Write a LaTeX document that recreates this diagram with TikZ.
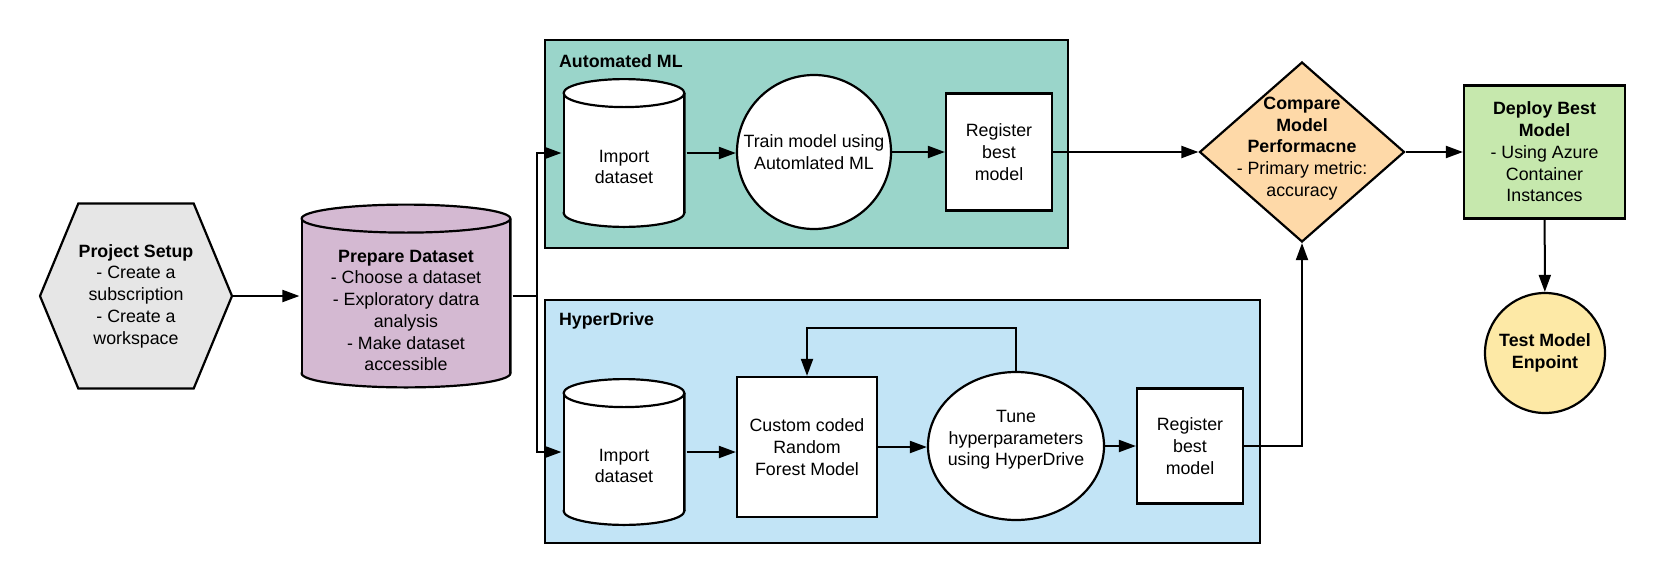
\documentclass[tikz,border=0pt]{standalone}
\usepackage{fontspec}
\setmainfont{Liberation Sans}
\usetikzlibrary{shapes.geometric,shapes.symbols,arrows.meta,calc}
\definecolor{setupgray}{HTML}{E6E6E6}
\definecolor{prepmauve}{HTML}{D4B9D2}
\definecolor{automlteal}{HTML}{9AD5CA}
\definecolor{hyperblue}{HTML}{C2E4F6}
\definecolor{comparepeach}{HTML}{FED9A8}
\definecolor{deploygreen}{HTML}{C6E8AD}
\definecolor{testyellow}{HTML}{FDE9A6}
\begin{document}
\begin{tikzpicture}[x=1pt, y=-1pt,
    every node/.style={font=\fontsize{17.8}{21.7}\selectfont, align=center, inner sep=0pt, line width=2.2pt},
    group/.style={draw, rectangle},
    proc/.style={draw, rectangle, fill=white},
    % cylinder drawn inside a plain rectangle node
    db/.style={rectangle, path picture={
      \path let \p1=(path picture bounding box.north west), \p2=(path picture bounding box.south east) in
        \pgfextra{\xdef\dbL{\x1}\xdef\dbR{\x2}\xdef\dbT{\y1}\xdef\dbB{\y2}};
      \begin{scope}[line width=2.2pt]
        \filldraw[fill=#1] ({(\dbL+\dbR)/2},{\dbB+15.1pt}) ellipse [x radius={(\dbR-\dbL)/2-1.1pt}, y radius=14pt];
        \fill[#1] ({\dbL+1.1pt},{\dbB+15.1pt}) rectangle ({\dbR-1.1pt},{\dbT-15.1pt});
        \draw ({\dbL+1.1pt},{\dbB+15.1pt}) -- ({\dbL+1.1pt},{\dbT-15.1pt})
              ({\dbR-1.1pt},{\dbB+15.1pt}) -- ({\dbR-1.1pt},{\dbT-15.1pt});
        \filldraw[fill=#1] ({(\dbL+\dbR)/2},{\dbT-15.1pt}) ellipse [x radius={(\dbR-\dbL)/2-1.1pt}, y radius=14pt];
      \end{scope}}},
    db/.default=white,
    >={Triangle[length=17pt, width=12pt]}]
  \useasboundingbox (0,0) rectangle (1665,584);
  \draw
    (806.5,144) node[group, fill=automlteal, minimum width=523, minimum height=208] (automl){}
    (902.5,421.5) node[group, fill=hyperblue, minimum width=715, minimum height=243] (hyper){}
    (558,61) node[anchor=west] (automltitle){\textbf{Automated ML}}
    (558,321) node[anchor=west] (hypertitle){\textbf{HyperDrive}}
    (136,296) node[draw, signal, signal to=west and east, signal pointer angle=135,
      fill=setupgray, minimum width=192, minimum height=185] (setup){\textbf{Project Setup}\\- Create a\\subscription\\- Create a\\workspace}
    (406,296) node[db=prepmauve, minimum width=211, minimum height=185,
      label={[yshift=-14.5pt]center:{\textbf{Prepare Dataset}\\- Choose a dataset\\- Exploratory datra\\analysis\\- Make dataset\\accessible}}] (prep){}
    (624,153) node[db, minimum width=123, minimum height=150,
      label={[yshift=-14pt]center:{Import\\dataset}}] (imp1){}
    (814,152) node[draw, circle, fill=white, minimum size=154] (train){Train model using\\Automlated ML}
    (999,152) node[proc, minimum width=106, minimum height=117] (reg1){Register\\best\\model}
    (624,452) node[db, minimum width=123, minimum height=148,
      label={[yshift=-14pt]center:{Import\\dataset}}] (imp2){}
    (807,447) node[proc, minimum width=140, minimum height=140] (rf){Custom coded\\Random\\Forest Model}
    (1016,446) node[draw, ellipse, fill=white, minimum width=176, minimum height=148,
      label={[yshift=6pt]center:{Tune\\hyperparameters\\using HyperDrive}}] (tune){}
    (1190,446) node[proc, minimum width=106, minimum height=115] (reg2){Register\\best\\model}
    (1302,152) node[draw, diamond, fill=comparepeach, minimum width=205, minimum height=180,
      label={[yshift=3.5pt]center:{\textbf{Compare}\\\textbf{Model}\\\textbf{Performacne}\\- Primary metric:\\accuracy}}] (comp){}
    (1544.5,152) node[draw, rectangle, fill=deploygreen, minimum width=161, minimum height=133] (deploy){\textbf{Deploy Best}\\\textbf{Model}\\- Using Azure\\Container\\Instances}
    (1545,353) node[draw, circle, fill=testyellow, minimum size=120] (test){\textbf{Test Model}\\\textbf{Enpoint}};
  \coordinate (split) at (537,296);
  \coordinate (loop) at (1016,328);
  \begin{scope}[->, line width=2pt]
    \draw (setup.east) to (setup.east -| prep.west);
    \draw[-] (prep.east) to (split);
    \draw (split) |- (imp1.west);
    \draw (split) |- (imp2.west);
    \draw (imp1.east) to (imp1.east -| train.west);
    \draw (train) to (reg1);
    \draw (reg1.east) to (reg1.east -| comp.west);
    \draw (comp) to (deploy);
    \draw (deploy) to (test);
    \draw (imp2.east) to (imp2.east -| rf.west);
    \draw (rf.east) to (rf.east -| tune.west);
    \draw (tune.east) to (tune.east -| reg2.west);
    \draw (tune.north) -- (loop) -| (rf.north);
    \draw (reg2.east) -| (comp.south);
  \end{scope}
\end{tikzpicture}
\end{document}
